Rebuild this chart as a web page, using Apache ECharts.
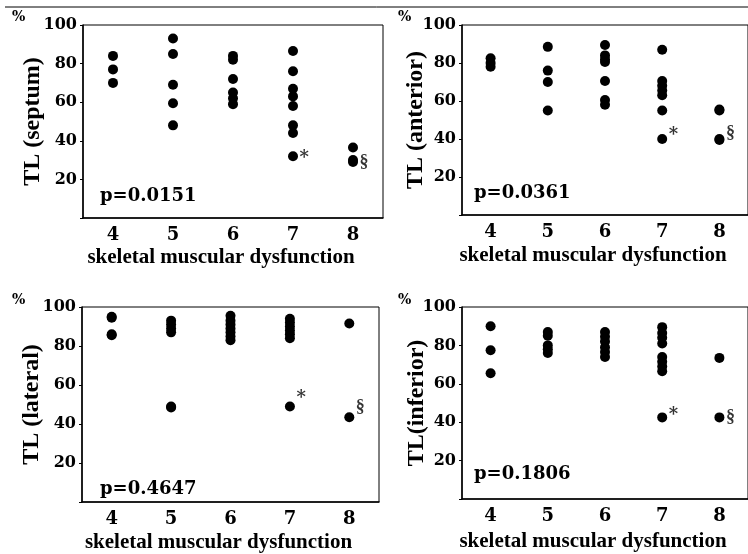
<!DOCTYPE html>
<html>
<head>
<meta charset="utf-8">
<script src="https://cdn.jsdelivr.net/npm/echarts@6/dist/echarts.min.js"></script>
<style>
html, body { margin: 0; padding: 0; background: #fff; }
#chart { width: 748px; height: 554px; }
</style>
</head>
<body>
<div id="chart"></div>
<script>
var categories = ['4', '5', '6', '7', '8'];
var yTicks = [20, 40, 60, 80, 100];

// TL (%) per skeletal muscular dysfunction score, one list per score 4..8
var septum = [
    [84, 77, 70],
    [93, 85, 69, 59.5, 48],
    [84, 82, 72, 65, 62, 59],
    [86.5, 76, 67, 63, 58, 48, 44, 32],
    [36.5, 30, 29]
];
var anterior = [
    [82.5, 80, 78],
    [88.5, 76, 70, 55],
    [89.5, 84, 82, 80.5, 70.5, 60.5, 58],
    [87, 70.5, 68, 65.5, 63, 55, 40],
    [55.5, 55, 40, 39.5]
];
var lateral = [
    [95, 94.5, 86, 85.5],
    [93, 91, 89, 87, 49, 48.5],
    [95.5, 93, 91, 89, 87, 85, 83],
    [94, 92, 90, 88, 86, 84, 49],
    [91.5, 43.5]
];
var inferior = [
    [90, 77.5, 65.5],
    [87, 85, 80, 78, 76],
    [87, 84.5, 82, 79, 76.5, 74],
    [89.5, 86.5, 84, 81, 74, 71.5, 69, 66.5, 42.5],
    [73.5, 42.5]
];

var yNames = ['TL (septum)', 'TL (anterior)', 'TL (lateral)', 'TL(inferior)'];
var pValues = ['p=0.0151', 'p=0.0361', 'p=0.4647', 'p=0.1806'];
var xName = 'skeletal muscular dysfunction';

// significance marks: [score, value, sign]
var notes = [
    [['7', 32, '*'], ['8', 29, '§']],
    [['7', 40, '*'], ['8', 40, '§']],
    [['7', 49, '*'], ['8', 43.5, '§']],
    [['7', 42.5, '*'], ['8', 42.5, '§']]
];
var allData = [septum, anterior, lateral, inferior];

// layout of the four panels
var panels = [
    {grid: {left: 83, top: 25, width: 300, height: 193}, yGap: 38, xGap: 29, p: [100, 198], pct: [12, 18], lift: [2, 0]},
    {grid: {left: 462, top: 25, width: 295, height: 190}, yGap: 34, xGap: 30, p: [474, 195], pct: [398, 18], lift: [-4, -6]},
    {grid: {left: 82, top: 307, width: 297, height: 196}, yGap: 38, xGap: 30, p: [100, 491], pct: [12, 301], lift: [-8, -10]},
    {grid: {left: 462, top: 307, width: 295, height: 192}, yGap: 33, xGap: 32, p: [474, 476], pct: [398, 301], lift: [-2, 0]}
];

var grids = [], xAxes = [], yAxes = [], series = [], graphics = [];

graphics.push({
    type: 'line',
    shape: {x1: 5, y1: 7, x2: 748, y2: 7},
    style: {stroke: '#000', lineWidth: 1}
});

panels.forEach(function (pn, i) {
    grids.push({
        left: pn.grid.left, top: pn.grid.top, width: pn.grid.width, height: pn.grid.height,
        show: true, borderColor: '#000', borderWidth: 1
    });
    xAxes.push({
        type: 'category',
        gridIndex: i,
        data: categories,
        boundaryGap: true,
        name: xName,
        nameLocation: 'middle',
        nameGap: pn.xGap,
        nameMoveOverlap: false,
        nameTextStyle: {fontFamily: 'Liberation Serif', fontWeight: 'bold', fontSize: 21, color: '#000', verticalAlign: 'top', padding: [0, 24, 0, 0]},
        axisLine: {lineStyle: {color: '#000', width: 1.5}},
        axisTick: {alignWithLabel: true, length: 3, lineStyle: {color: '#aaa'}},
        axisLabel: {margin: 8, fontFamily: 'DejaVu Serif', fontWeight: 'bold', fontSize: 18, color: '#000'},
        splitLine: {show: false}
    });
    yAxes.push({
        type: 'value',
        gridIndex: i,
        min: 0,
        max: 100,
        interval: 20,
        name: yNames[i],
        nameLocation: 'middle',
        nameGap: pn.yGap,
        nameMoveOverlap: false,
        nameTextStyle: {fontFamily: 'Liberation Serif', fontWeight: 'bold', fontSize: 24, color: '#000'},
        axisLine: {show: true, lineStyle: {color: '#000', width: 1.5}},
        axisTick: {show: true, length: 3, lineStyle: {color: '#000'}},
        axisLabel: {
            margin: 6, fontFamily: 'DejaVu Serif', fontWeight: 'bold', fontSize: 16, color: '#000',
            formatter: function (v) { return yTicks.indexOf(v) >= 0 ? String(v) : ''; }
        },
        splitLine: {show: false}
    });

    var pts = [];
    allData[i].forEach(function (vals, c) {
        vals.forEach(function (v) { pts.push([categories[c], v]); });
    });
    series.push({
        type: 'scatter',
        xAxisIndex: i,
        yAxisIndex: i,
        symbol: 'circle',
        symbolSize: 10,
        itemStyle: {color: '#000', opacity: 1},
        silent: true,
        data: pts
    });
    series.push({
        type: 'scatter',
        xAxisIndex: i,
        yAxisIndex: i,
        symbolSize: 1,
        itemStyle: {color: 'rgba(0,0,0,0)'},
        silent: true,
        data: notes[i].map(function (n, k) {
            return {
                value: [n[0], n[1]],
                label: {
                    show: true,
                    position: 'right',
                    distance: 6,
                    offset: [0, pn.lift[k]],
                    formatter: n[2],
                    fontFamily: n[2] === '*' ? 'DejaVu Serif' : 'Liberation Serif',
                    fontWeight: 'bold',
                    fontSize: 18,
                    color: '#000'
                }
            };
        })
    });

    graphics.push({
        type: 'text', left: pn.p[0], top: pn.p[1] - 11,
        style: {text: pValues[i], font: 'bold 18px "DejaVu Serif"', fill: '#000'}
    });
    graphics.push({
        type: 'text', left: pn.pct[0], top: pn.pct[1] - 8,
        style: {text: '%', font: 'bold 14px "DejaVu Serif"', fill: '#000'}
    });
});

var myChart = echarts.init(document.getElementById('chart'));
myChart.setOption({
    backgroundColor: '#fff',
    animation: false,
    grid: grids,
    xAxis: xAxes,
    yAxis: yAxes,
    series: series,
    graphic: graphics
});
</script>
</body>
</html>
